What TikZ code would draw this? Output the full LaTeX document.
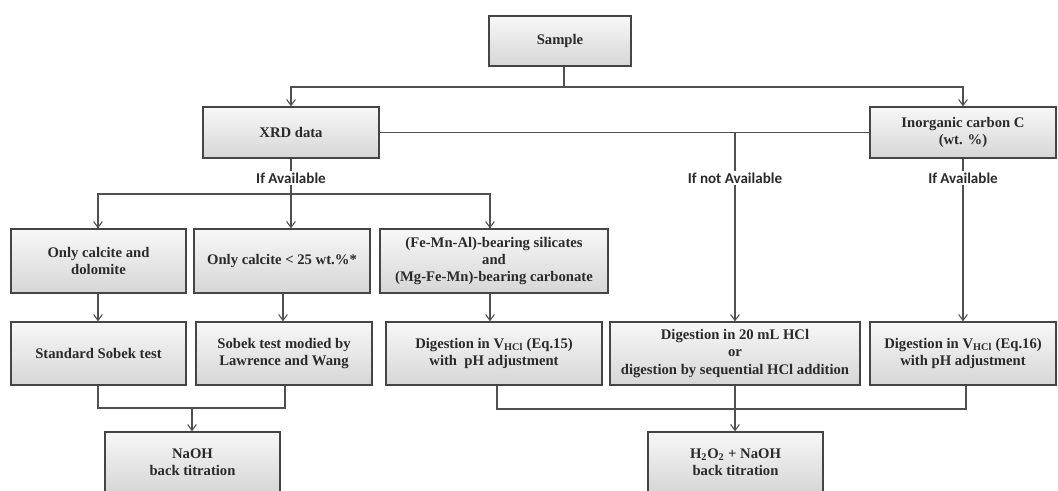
\documentclass[tikz,border=0pt]{standalone}
\usepackage{fontspec}
\setmainfont{Liberation Serif}
\newfontfamily\labfont{Carlito}
\usetikzlibrary{arrows.meta}
\definecolor{boxedge}{HTML}{454545}
\definecolor{linec}{HTML}{505050}
\definecolor{txt}{HTML}{2A2A2A}
\begin{document}
\begin{tikzpicture}[x=0.75pt,y=-0.75pt,
  box/.style={draw=boxedge, line width=0.9pt, top color=gray!6, bottom color=gray!32,
    align=center, inner sep=2pt, text=txt,
    font=\bfseries\fontsize{11}{13}\selectfont},
  conn/.style={draw=linec, line width=0.8pt},
  arr/.style={conn, -{Straight Barb[length=4.5pt,width=6.5pt]}},
  lab/.style={fill=white, inner sep=1.5pt, text=txt, font=\labfont\bfseries\fontsize{11.3}{13}\selectfont}]
\useasboundingbox (0,0) rectangle (1058,491);
\begin{scope}
\clip (0,0) rectangle (1058,491);
% boxes
\node[box, minimum width=106.5pt, minimum height=37.5pt] (sample) at (560,41) {Sample};
\node[box, minimum width=132pt, minimum height=38.25pt] (xrd) at (291,132.5) {XRD data};
\node[box, minimum width=139.5pt, minimum height=38.25pt] (inorg) at (963,132.5) {Inorganic carbon C\\(wt. \%)};
\node[box, minimum width=131.25pt, minimum height=48pt] (b1) at (98.5,261) {Only calcite and\\dolomite};
\node[box, minimum width=132pt, minimum height=48pt] (b2) at (282,261) {Only calcite < 25 wt.\%*};
\node[box, minimum width=171pt, minimum height=48pt] (b3) at (494,261) {(Fe-Mn-Al)-bearing silicates\\and\\(Mg-Fe-Mn)-bearing carbonate};
\node[box, minimum width=131.25pt, minimum height=47.25pt] (b4) at (98.5,353.5) {Standard Sobek test};
\node[box, minimum width=132pt, minimum height=47.25pt] (b5) at (284,353.5) {Sobek test modied by\\Lawrence and Wang};
\node[box, minimum width=162pt, minimum height=47.25pt] (b6) at (494,353.5) {Digestion in V\textsubscript{HCl} (Eq.15)\\with\ \ pH adjustment};
\node[box, minimum width=187.5pt, minimum height=47.25pt] (b7) at (735,353.5) {Digestion in 20 mL HCl\\or\\digestion by sequential HCl addition};
\node[box, minimum width=139.5pt, minimum height=47.25pt] (b8) at (963,353.5) {Digestion in V\textsubscript{HCl} (Eq.16)\\with pH adjustment};
\node[box, minimum width=131.25pt, minimum height=45pt] (naoh) at (192.5,462) {NaOH\\back titration};
\node[box, minimum width=131.25pt, minimum height=45pt] (h2o2) at (735.5,462) {H\textsubscript{2}O\textsubscript{2} + NaOH\\back titration};
% junctions
\coordinate (j1) at (564,87);
\coordinate (j2) at (291,194);
\coordinate (j3) at (735,133);
\coordinate (m1) at (192,408);
\coordinate (m2) at (735,409);
% connectors
\draw[conn] (j1 |- sample.south) -- (j1);
\draw[arr] (j1) -| (xrd.north);
\draw[arr] (j1) -| (inorg.north);
\draw[conn] (xrd.east) -- (inorg.west);
\draw[conn] (xrd.south) -- (j2);
\draw[arr] (j2) -| (98,228) -- (b1.north -| 98,0);
\draw[arr] (j2) -- (j2 |- b2.north);
\draw[arr] (j2) -| (490,228) -- (b3.north -| 490,0);
\draw[arr] (j3) -- (b7.north);
\draw[arr] (inorg.south) -- (b8.north);
\draw[arr] (b1.south -| 98,0) -- (b4.north -| 98,0);
\draw[arr] (b2.south -| 283,0) -- (b5.north -| 283,0);
\draw[arr] (b3.south -| 490,0) -- (b6.north -| 490,0);
\draw[conn] (b4.south -| 98,0) |- (m1) -| (b5.south -| 285,0);
\draw[arr] (m1) -- (naoh.north -| m1);
\draw[conn] (b6.south -| 497,0) |- (m2) -| (b8.south -| 966,0);
\draw[arr] (b7.south) -- (h2o2.north -| b7.south);
% labels
\node[lab] (l1) at (291,178) {If Available};
\node[lab] (l2) at (735,178) {If not Available};
\node[lab] (l3) at (963,178) {If Available};
\end{scope}
\end{tikzpicture}
\end{document}
